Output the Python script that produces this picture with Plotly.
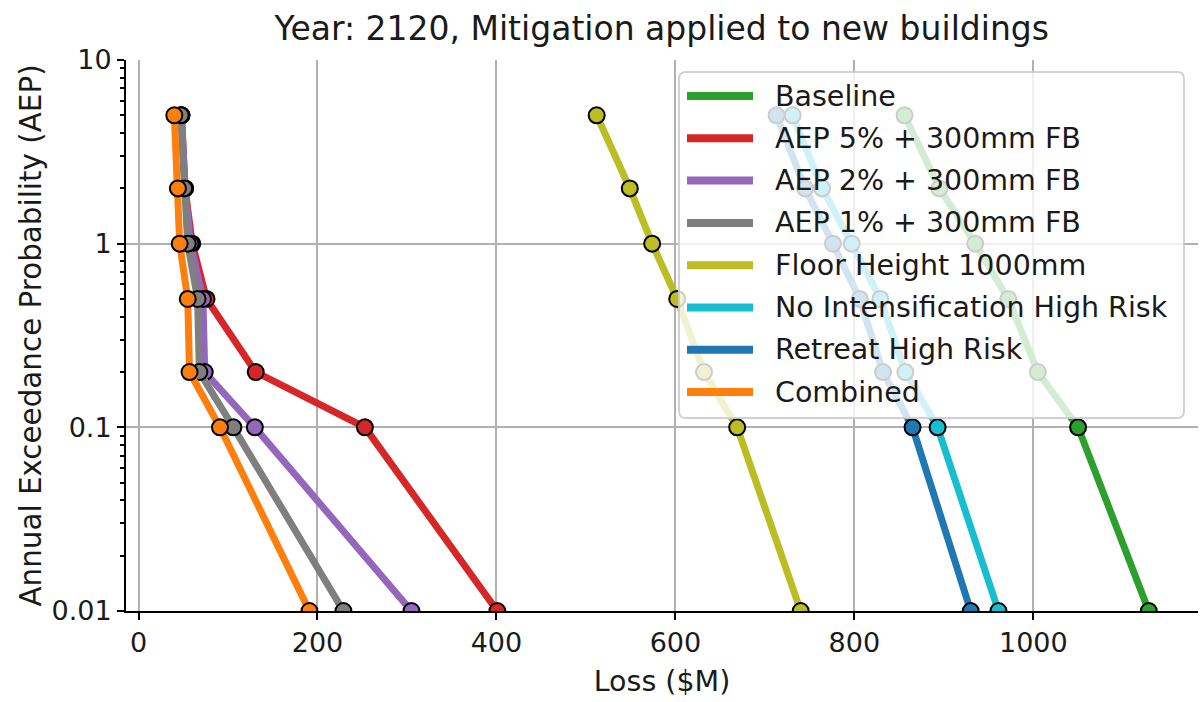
import plotly.graph_objects as go

# Annual exceedance probabilities (%) shared by every scenario
aep = [5, 2, 1, 0.5, 0.2, 0.1, 0.01]

# Loss ($M) per scenario at each AEP
baseline = [856, 895, 935, 972, 1005, 1050, 1129]
aep5_fb = [48, 52, 60, 76, 131, 253, 401]
aep2_fb = [48, 52, 58, 72, 74, 130, 305]
aep1_fb = [47, 51, 55, 66, 68, 106, 229]
floor_1000 = [512, 549, 574, 602, 632, 669, 740]
no_intens = [731, 764, 797, 829, 857, 893, 961]
retreat = [713, 745, 776, 806, 832, 865, 930]
combined = [40, 44, 46, 55, 57, 91, 191]

names = [
    "Baseline",
    "AEP 5% + 300mm FB",
    "AEP 2% + 300mm FB",
    "AEP 1% + 300mm FB",
    "Floor Height 1000mm",
    "No Intensification High Risk",
    "Retreat High Risk",
    "Combined",
]
series = [baseline, aep5_fb, aep2_fb, aep1_fb, floor_1000, no_intens, retreat, combined]
colors = ["#2ca02c", "#d62728", "#9467bd", "#7f7f7f",
          "#bcbd22", "#17becf", "#1f77b4", "#ff7f0e"]

y_ticks = [0.01, 0.1, 1, 10]
y_ticktext = ["0.01", "0.1", "1", "10"]
x_ticks = [0, 200, 400, 600, 800, 1000]

FONT = "DejaVu Sans"
W, H = 1200, 702
ML, MR, MT, MB = 126, 2, 60, 91
PW, PH = W - ML - MR, H - MT - MB


def px(x):
    """Horizontal pixel -> paper fraction."""
    return (x - ML) / PW


def py(y):
    """Vertical pixel (from top) -> paper fraction."""
    return (MT + PH - y) / PH


fig = go.Figure()

for name, vals, col in zip(names, series, colors):
    fig.add_trace(go.Scatter(
        x=vals, y=aep, mode="lines+markers", name=name,
        line=dict(color=col, width=7),
        marker=dict(size=16, color=col, line=dict(color="black", width=2)),
        showlegend=False,
    ))

# Legend box: translucent white, rounded corners, drawn over the curves
bx0, bx1, by0, by1, r = 679, 1184, 72, 418, 7
pts = [
    ("M", bx0 + r, by0), ("L", bx1 - r, by0), ("Q", bx1, by0, bx1, by0 + r),
    ("L", bx1, by1 - r), ("Q", bx1, by1, bx1 - r, by1),
    ("L", bx0 + r, by1), ("Q", bx0, by1, bx0, by1 - r),
    ("L", bx0, by0 + r), ("Q", bx0, by0, bx0 + r, by0),
]
path = ""
for p in pts:
    cmd, coords = p[0], p[1:]
    conv = []
    for i in range(0, len(coords), 2):
        conv.append(f"{px(coords[i]):.5f},{py(coords[i + 1]):.5f}")
    path += cmd + " ".join(conv) + " "
path += "Z"

shapes = [dict(type="path", path=path, xref="paper", yref="paper", layer="above",
               fillcolor="rgba(255,255,255,0.8)",
               line=dict(color="rgba(204,204,204,0.9)", width=2))]
annotations = []
row0, step = 96, 42.3
for i, (name, col) in enumerate(zip(names, colors)):
    yc = row0 + i * step
    shapes.append(dict(type="line", xref="paper", yref="paper", layer="above",
                       x0=px(687), x1=px(753), y0=py(yc), y1=py(yc),
                       line=dict(color=col, width=8)))
    annotations.append(dict(text=name, xref="paper", yref="paper",
                            x=px(773), y=py(yc), xanchor="left", yanchor="middle",
                            showarrow=False,
                            font=dict(family=FONT, size=28.5, color="#1a1a1a")))

minor_vals = [m * 10 ** k for k in (-2, -1, 0) for m in range(2, 10)]

fig.update_layout(
    width=W, height=H,
    margin=dict(l=ML, r=MR, t=MT, b=MB),
    paper_bgcolor="white", plot_bgcolor="white",
    font=dict(family=FONT, size=27, color="#1a1a1a"),
    title=dict(text="Year: 2120, Mitigation applied to new buildings",
               x=0.5515, xanchor="center", y=0.96, yanchor="middle",
               font=dict(size=33, color="#1a1a1a")),
    showlegend=False,
    shapes=shapes,
    annotations=annotations,
    xaxis=dict(
        range=[-14, 1184], tickvals=x_ticks,
        showgrid=True, gridcolor="#b0b0b0", gridwidth=1.5, zeroline=False,
        showline=True, linecolor="black", linewidth=2,
        ticks="outside", ticklen=7, tickwidth=2, tickcolor="black",
        title=dict(text="Loss ($M)", font=dict(size=28.5), standoff=14),
    ),
    yaxis=dict(
        type="log", range=[-2, 1],
        tickvals=y_ticks, ticktext=y_ticktext,
        showgrid=True, gridcolor="#b0b0b0", gridwidth=1.5, zeroline=False,
        showline=True, linecolor="black", linewidth=2,
        ticks="outside", ticklen=7, tickwidth=2, tickcolor="black",
        minor=dict(tickvals=minor_vals, ticks="outside", ticklen=4,
                   tickwidth=1.5, tickcolor="black", showgrid=False),
        title=dict(text="Annual Exceedance Probability (AEP)",
                   font=dict(size=29.4), standoff=1),
    ),
)

fig.write_html("out.html")
